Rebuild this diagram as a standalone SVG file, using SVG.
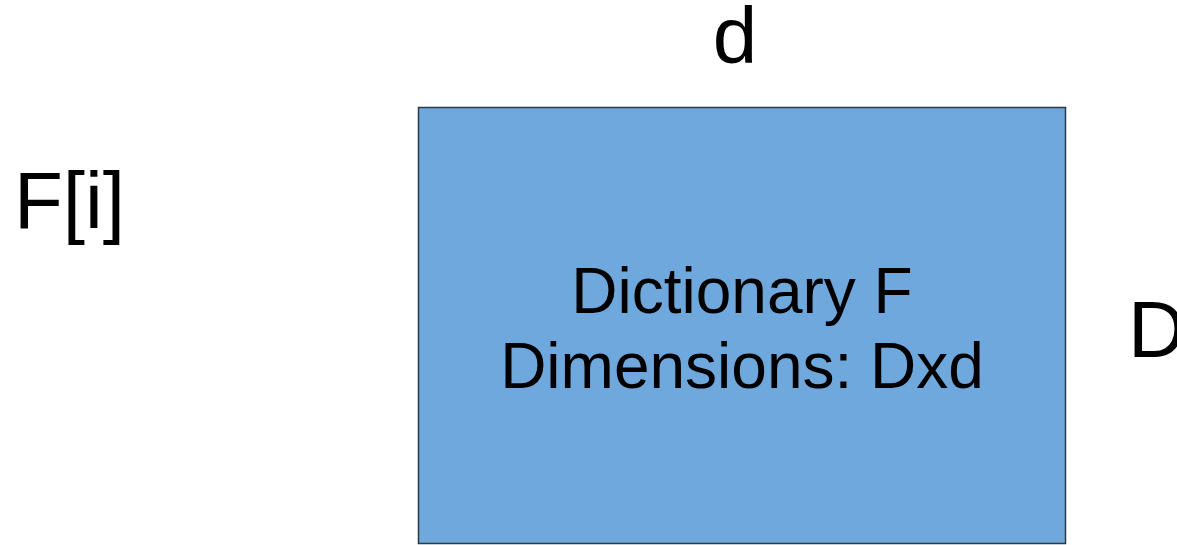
<svg xmlns="http://www.w3.org/2000/svg" width="1177" height="545" viewBox="0 0 1177 545">
<style>
text{font-family:"Liberation Sans",Arial,sans-serif;fill:#000}
.big{font-size:80px}
.mid{font-size:64px}
</style>
<rect width="1177" height="545" fill="#fff"/>
<g id="dictionary">
<rect x="418.5" y="107.5" width="647" height="436" fill="#6fa8dc" stroke="#2b3a47" stroke-width="1.5"/>
<text class="mid" x="742" y="313" text-anchor="middle">Dictionary F</text>
<text class="mid" x="742" y="388" text-anchor="middle">Dimensions: Dxd</text>
</g>
<g id="label-d"><text class="big" x="735" y="63" text-anchor="middle">d</text></g>
<g id="label-Fi"><text class="big" x="14" y="228">F[i]</text></g>
<g id="label-D"><text class="big" x="1128" y="357">D</text></g>
<g id="connectors"></g>
</svg>
